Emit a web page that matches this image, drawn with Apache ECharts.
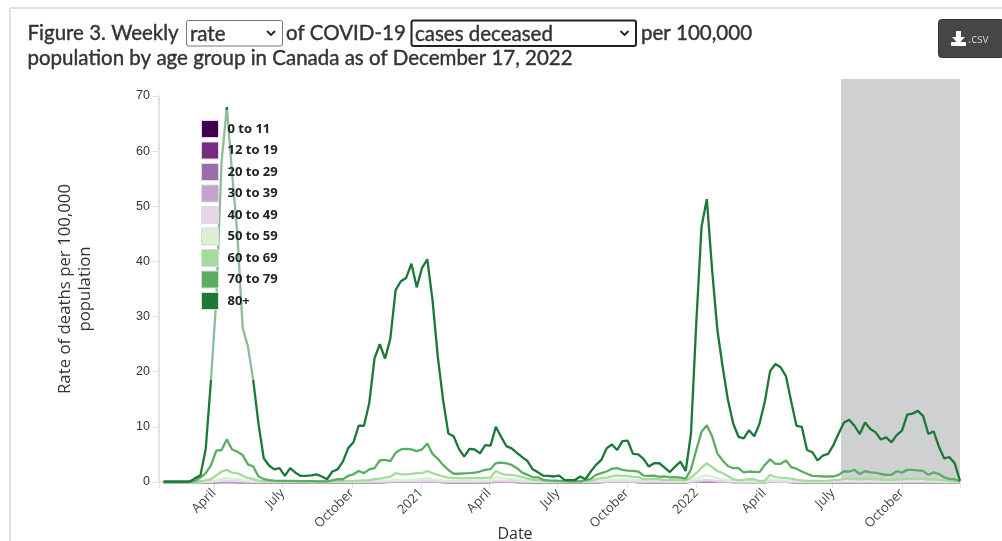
<!DOCTYPE html>
<html><head><meta charset="utf-8">
<style>html,body{margin:0;padding:0;background:#fff}#c{width:1002px;height:541px}</style>
<script src="https://cdn.jsdelivr.net/npm/echarts@6/dist/echarts.min.js"></script>
</head><body><div id="c"></div>
<script>
const weeks = [
'2020-01-25','2020-02-01','2020-02-08','2020-02-15','2020-02-22','2020-02-29','2020-03-07','2020-03-14','2020-03-21','2020-03-28',
'2020-04-04','2020-04-11','2020-04-18','2020-04-25','2020-05-02','2020-05-09','2020-05-16','2020-05-23','2020-05-30','2020-06-06',
'2020-06-13','2020-06-20','2020-06-27','2020-07-04','2020-07-11','2020-07-18','2020-07-25','2020-08-01','2020-08-08','2020-08-15',
'2020-08-22','2020-08-29','2020-09-05','2020-09-12','2020-09-19','2020-09-26','2020-10-03','2020-10-10','2020-10-17','2020-10-24',
'2020-10-31','2020-11-07','2020-11-14','2020-11-21','2020-11-28','2020-12-05','2020-12-12','2020-12-19','2020-12-26','2021-01-02',
'2021-01-09','2021-01-16','2021-01-23','2021-01-30','2021-02-06','2021-02-13','2021-02-20','2021-02-27','2021-03-06','2021-03-13',
'2021-03-20','2021-03-27','2021-04-03','2021-04-10','2021-04-17','2021-04-24','2021-05-01','2021-05-08','2021-05-15','2021-05-22',
'2021-05-29','2021-06-05','2021-06-12','2021-06-19','2021-06-26','2021-07-03','2021-07-10','2021-07-17','2021-07-24','2021-07-31',
'2021-08-07','2021-08-14','2021-08-21','2021-08-28','2021-09-04','2021-09-11','2021-09-18','2021-09-25','2021-10-02','2021-10-09',
'2021-10-16','2021-10-23','2021-10-30','2021-11-06','2021-11-13','2021-11-20','2021-11-27','2021-12-04','2021-12-11','2021-12-18',
'2021-12-25','2022-01-01','2022-01-08','2022-01-15','2022-01-22','2022-01-29','2022-02-05','2022-02-12','2022-02-19','2022-02-26',
'2022-03-05','2022-03-12','2022-03-19','2022-03-26','2022-04-02','2022-04-09','2022-04-16','2022-04-23','2022-04-30','2022-05-07',
'2022-05-14','2022-05-21','2022-05-28','2022-06-04','2022-06-11','2022-06-18','2022-06-25','2022-07-02','2022-07-09','2022-07-16',
'2022-07-23','2022-07-30','2022-08-06','2022-08-13','2022-08-20','2022-08-27','2022-09-03','2022-09-10','2022-09-17','2022-09-24',
'2022-10-01','2022-10-08','2022-10-15','2022-10-22','2022-10-29','2022-11-05','2022-11-12','2022-11-19','2022-11-26','2022-12-03',
'2022-12-10','2022-12-17'];

const age0to11 = [
0,0,0,0,0,0,0,0,0,0, 0,0,.01,0,0,0,0,0,0,0, 0,0,0,0,0,0,0,0,0,0,
0,0,0,0,0,0,0,0,0,0, 0,0,0,.01,.01,.01,.01,.01,.01,.01, .01,.01,.01,0,0,0,0,0,0,0,
0,0,0,.01,.01,.01,.01,0,0,0, 0,0,0,0,0,0,0,0,0,0, 0,0,0,0,.01,.01,.01,.01,.01,.01,
0,0,0,0,0,0,0,0,0,0, .01,.01,.02,.02,.02,.01,.01,.01,0,0, 0,0,0,0,0,.01,.01,.01,.01,0,
0,0,0,0,0,0,0,0,0,0, 0,0,0,0,0,0,0,0,0,0, 0,0,0,0,0,0,0,0,0,0, 0,0];
const age12to19 = [
0,0,0,0,0,0,0,0,0,0, 0,.01,.01,.01,0,0,0,0,0,0, 0,0,0,0,0,0,0,0,0,0,
0,0,0,0,0,0,0,0,0,0, 0,0,.01,.01,.01,.01,.01,.01,.01,.01, .02,.01,.01,.01,0,0,0,0,0,0,
0,0,.01,.01,.01,.01,.01,.01,0,0, 0,0,0,0,0,0,0,0,0,0, 0,0,0,.01,.01,.01,.01,.01,.01,.01,
.01,0,0,0,0,0,0,0,0,0, .01,.01,.02,.02,.02,.02,.01,.01,.01,.01, .01,.01,.01,.01,.01,.01,.01,.01,.01,.01,
0,0,0,0,0,0,0,0,0,0, 0,0,0,0,0,0,0,0,0,0, 0,0,0,0,0,0,0,0,0,0, 0,0];
const age20to29 = [
0,0,0,0,0,0,0,0,0,.01, .02,.03,.03,.03,.02,.02,.01,.01,0,0, 0,0,0,0,0,0,0,0,0,0,
0,0,0,0,0,0,0,0,.01,.01, .01,.01,.02,.02,.02,.02,.03,.03,.03,.03, .04,.03,.02,.02,.01,.01,.01,.01,.01,.01,
.01,.01,.02,.03,.03,.03,.02,.02,.01,.01, 0,0,0,0,0,0,0,0,0,0, 0,.01,.01,.01,.02,.02,.02,.02,.02,.02,
.02,.01,.01,.01,.01,.01,.01,.01,.01,.01, .02,.03,.05,.06,.05,.04,.03,.02,.02,.01, .01,.01,.01,.01,.02,.02,.02,.02,.02,.01,
.01,.01,.01,.01,.01,.01,.01,.01,.01,.01, .01,.01,.01,.01,.01,.01,.01,.01,.01,.01, .01,.01,.01,.01,.01,.01,.01,.01,.01,.01, .01,0];
const age30to39 = [
0,0,0,0,0,0,0,0,.01,.02, .05,.08,.09,.08,.07,.05,.03,.02,.01,.01, 0,0,0,0,0,0,0,0,0,0,
0,0,0,0,0,0,.01,.01,.02,.02, .03,.03,.04,.05,.06,.06,.06,.07,.07,.08, .09,.07,.05,.04,.03,.03,.03,.03,.03,.03,
.03,.04,.05,.08,.08,.07,.06,.05,.03,.02, .01,.01,.01,0,0,0,0,0,0,0, .01,.01,.02,.03,.04,.05,.05,.05,.05,.04,
.04,.03,.03,.02,.02,.02,.02,.02,.02,.02, .04,.08,.12,.14,.12,.09,.06,.05,.04,.03, .03,.03,.03,.03,.04,.05,.04,.04,.04,.03,
.02,.02,.02,.01,.01,.01,.02,.02,.02,.03, .03,.03,.02,.03,.03,.02,.02,.02,.02,.02, .02,.03,.03,.03,.03,.02,.02,.02,.01,.01, .01,0];
const age40to49 = [
0,0,0,0,0,0,0,0,.02,.05, .12,.2,.25,.2,.18,.13,.08,.05,.03,.02, .01,.01,.01,.01,.01,.01,.01,.01,0,0,
0,0,.01,.01,.01,.02,.03,.04,.05,.06, .08,.09,.1,.12,.15,.15,.15,.16,.17,.18, .22,.17,.13,.1,.08,.07,.07,.07,.07,.08,
.08,.09,.1,.22,.2,.17,.15,.12,.08,.06, .04,.03,.02,.02,.01,.01,.01,.01,.01,.01, .02,.03,.06,.08,.1,.13,.14,.13,.12,.11,
.1,.06,.06,.06,.05,.05,.04,.04,.04,.04, .1,.2,.3,.38,.3,.22,.16,.12,.08,.06, .06,.07,.07,.05,.06,.12,.1,.09,.08,.07,
.05,.04,.03,.03,.03,.03,.04,.04,.05,.06, .06,.06,.05,.06,.06,.05,.05,.05,.04,.05, .05,.06,.06,.06,.06,.05,.05,.04,.03,.03, .02,0];
const age50to59 = [
0,0,0,0,0,0,0,0,.05,.1, .3,.5,.7,.55,.5,.35,.2,.15,.08,.05, .03,.03,.03,.03,.03,.03,.03,.02,.02,.02,
.02,.02,.03,.03,.04,.06,.07,.1,.12,.15, .2,.2,.25,.3,.45,.4,.4,.4,.5,.5, .7,.5,.4,.3,.25,.2,.2,.2,.2,.25,
.25,.3,.3,.9,.7,.6,.55,.45,.3,.2, .15,.12,.08,.05,.05,.04,.03,.03,.02,.02, .05,.1,.2,.25,.3,.4,.45,.45,.45,.4,
.35,.2,.2,.2,.2,.15,.15,.15,.15,.12, .3,.6,1,1.2,1,.7,.5,.35,.2,.15, .15,.2,.2,.1,.15,.5,.35,.3,.25,.2,
.15,.1,.1,.08,.08,.08,.1,.12,.15,.2, .2,.2,.15,.2,.2,.18,.15,.15,.12,.18, .15,.2,.2,.2,.2,.15,.15,.12,.1,.08, .05,.02];
const age60to69 = [
0,0,0,0,0,0,0,.05,.3,.5, 1.2,1.9,2.2,1.7,1.6,1.15,.7,.55,.25,.15, .1,.1,.1,.1,.1,.08,.08,.08,.05,.05,
.05,.05,.1,.1,.1,.2,.2,.25,.3,.35, .5,.6,.8,.95,1.6,1.4,1.4,1.45,1.6,1.6, 2,1.6,1.3,1,.8,.7,.7,.65,.7,.7,
.7,.75,.8,2,1.5,1.3,1.3,1.1,.9,.6, .4,.4,.2,.15,.12,.1,.08,.08,.05,.05, .1,.2,.5,.7,.8,1,1.2,1.1,1.1,.9,
.9,.5,.5,.55,.5,.35,.35,.4,.4,.3, .8,1.6,2.6,3.4,2.7,2,1.6,1.1,.5,.3, .4,.5,.5,.15,.25,1.3,.9,.8,.75,.6,
.4,.3,.2,.2,.2,.2,.25,.35,.4,.55, .55,.55,.45,.55,.55,.5,.45,.4,.35,.5, .45,.55,.55,.55,.55,.45,.5,.4,.3,.2, .15,.05];
const age70to79 = [
0,0,0,0,0,0,.2,.8,1.6,3, 5.7,5.8,7.7,5.9,5.5,4.9,3.2,2.8,1,.55, .35,.25,.2,.2,.2,.2,.15,.15,.15,.1,
.1,.1,.3,.5,.5,1.1,1.4,2,1.6,2.3, 2.5,3.9,4,3.8,5.3,5.9,6,5.9,5.6,5.9, 7,5.1,4.2,3.1,2.2,1.5,1.5,1.55,1.6,1.7,
1.9,2.2,2.35,3.4,3.5,3.4,3.1,2.5,1.7,1.3, .85,.85,.4,.3,.25,.2,.15,.1,.1,.1, .35,.55,1.3,1.6,1.9,2.4,2.5,2.2,2.05,2,
1.9,1.15,1.1,1.15,.95,1,.85,.9,.8,.6, 2.3,5.8,9.1,10.3,8.3,5.2,3.9,2.9,2.5,2.5, 1.75,1.9,1.85,1.8,3.1,4.1,3.3,3.3,3.9,2.7,
2.4,1.9,1.5,1.1,1.05,1,1,1,1.3,1.95, 1.9,2.2,1.45,1.95,1.75,1.7,1.45,1.3,1.3,1.95, 1.7,2.2,2.2,2.1,2,1.3,1.75,1.45,.85,.55, .5,.1];
const age80plus = [
.05,.05,.05,.05,.05,.1,.7,1.2,6,18.5, 33,58,68,56,45,28,24.6,18.5,10.6,4.3, 3,2.3,2.5,1.1,2.5,1.7,1.1,1.1,1.2,1.4,
1,.5,1.9,2.3,3.7,6.1,7.2,10.2,10.2,14.3, 22.4,25,22.4,26,34.8,36.4,37,39.6,35.3,38.8, 40.4,33,22.7,14.9,8.8,8.3,6,4.6,6,5.9,
5.2,6.7,6.6,10,8.2,6.5,6.1,5.3,4.5,3.8, 2.3,1.75,1.15,1.1,1,1.15,.4,.35,.35,1, .5,1.9,3.1,4,6.1,6.8,5.8,7.4,7.5,5.1,
5,4.2,2.8,3.4,3.4,2.6,1.8,2.8,3.7,2, 8.8,28.8,46.3,51.3,38.5,27.6,20.9,14.9,10.6,8.2, 7.9,9.4,8.3,10.6,14.6,20.1,21.4,20.8,19.2,14.6,
10.2,10,5.8,5.4,3.9,4.8,5.1,6.7,8.8,10.8, 11.3,10.2,8.7,10.8,9.6,9,7.7,8.1,7.2,8.5, 9.3,12.2,12.4,12.9,12,8.7,9.2,6.4,4.3,4.5, 3.4,.2];

const ageGroups = ['0 to 11','12 to 19','20 to 29','30 to 39','40 to 49','50 to 59','60 to 69','70 to 79','80+'];
const ageColors = ['#40004b','#762a83','#9970ab','#c2a5cf','#e7d4e8','#d9f0d3','#a6dba0','#5aae61','#1b7837'];
const ageValues = [age0to11,age12to19,age20to29,age30to39,age40to49,age50to59,age60to69,age70to79,age80plus];

const tickDates = ['2020-04-01','2020-07-01','2020-10-01','2021-01-01','2021-04-01','2021-07-01','2021-10-01','2022-01-01','2022-04-01','2022-07-01','2022-10-01'];
const tickLabels = ['April','July','October','2021','April','July','October','2022','April','July','October'];
const axisStart = '2020-01-19', axisEnd = '2022-12-17';
const incompleteFrom = '2022-07-12';

const ts = s => new Date(s + 'T00:00:00').getTime();
const labelByTime = {};
tickDates.forEach((d,i)=>{labelByTime[ts(d)] = tickLabels[i];});
const axisGrey = '#e3e3e3', textDark = '#333';
const font = '"Open Sans"';

const series = [{
  type:'line', xAxisIndex:1, yAxisIndex:1, data:[], silent:true, z:1,
  markArea:{silent:true, itemStyle:{color:'#cfd0d2'}, data:[[{xAxis:ts(incompleteFrom),yAxis:0},{xAxis:ts(axisEnd),yAxis:1}]]}
}];
ageGroups.forEach((name,k)=>{
  series.push({
    name, type:'line', showSymbol:false, symbol:'none', clip:false, z:3+k,
    lineStyle:{color:ageColors[k],width:2.3}, itemStyle:{color:ageColors[k]},
    data:ageValues[k].map((v,i)=>[ts(weeks[i]),v])
  });
});

const t = (text,x,y,size,extra) => ({type:'text',silent:true,x,y,z:50,style:Object.assign({text,font:size+'px Lato',fill:'#333',stroke:'#333',lineWidth:0.4,verticalAlign:'middle'},extra||{})});
const box = (x,y,w,h,stroke,lw) => ({type:'rect',silent:true,z:49,shape:{x,y,width:w,height:h,r:2},style:{fill:'#fff',stroke,lineWidth:lw}});
const chev = (x,y) => ({type:'polyline',silent:true,z:50,shape:{points:[[x-4,y-2],[x,y+2],[x+4,y-2]]},style:{fill:null,stroke:'#222',lineWidth:1.8}});

const graphic = [
  {type:'line',silent:true,shape:{x1:10,y1:8,x2:1002,y2:8},style:{stroke:'#e2e2e2',lineWidth:2}},
  {type:'line',silent:true,shape:{x1:10,y1:8,x2:10,y2:541},style:{stroke:'#e2e2e2',lineWidth:2}},
  t('Figure 3. Weekly',27.5,33,20.5),
  box(186.5,20.5,96,25.5,'#767676',1),
  t('rate',190,34,20.5),
  chev(271,33),
  t('of COVID-19',286,33,20.5),
  box(411.5,20.5,224.5,25.5,'#222',2),
  t('cases deceased',415,34,20.5),
  chev(624.5,33),
  t('per 100,000',641,33,20.5),
  t('population by age group in Canada as of December 17, 2022',27.5,58,20.5),
  {type:'rect',silent:true,z:49,shape:{x:938.5,y:19.5,width:66,height:38,r:3},style:{fill:'#464646',stroke:'#333',lineWidth:1}},
  {type:'polygon',silent:true,z:50,shape:{points:[[956,31],[961,31],[961,37],[965,37],[958.5,44],[952,37],[956,37]]},style:{fill:'#fff'}},
  {type:'rect',silent:true,z:50,shape:{x:951,y:42,width:15,height:4,r:1},style:{fill:'#fff'}},
  t('.csv',968,40,12,{font:'12px "Open Sans"',fill:'#ccc',stroke:null,lineWidth:0})
];

const option = {
  animation:false,
  backgroundColor:'#fff',
  grid:[
    {left:159,right:42,top:96,height:386,outerBoundsMode:'none'},
    {left:159,right:42,top:79,height:403,outerBoundsMode:'none'}
  ],
  xAxis:[{
    type:'value',gridIndex:0,min:ts(axisStart),max:ts(axisEnd),scale:true,
    name:'Date',nameLocation:'middle',nameGap:44,nameMoveOverlap:false,
    nameTextStyle:{fontFamily:font,fontSize:16,color:textDark,padding:[0,89,0,0]},
    axisLine:{show:true,lineStyle:{color:axisGrey,width:2}},
    axisTick:{show:true,length:6,lineStyle:{color:axisGrey,width:1},customValues:[ts(axisStart)].concat(tickDates.map(ts),[ts(axisEnd)])},
    axisLabel:{show:true,rotate:45,margin:9,fontFamily:font,fontSize:13,color:'#444',hideOverlap:false,showMinLabel:true,showMaxLabel:true,customValues:tickDates.map(ts),formatter:v=>labelByTime[v]||''},
    splitLine:{show:false}
  },{
    type:'value',gridIndex:1,min:ts(axisStart),max:ts(axisEnd),scale:true,show:false
  }],
  yAxis:[{
    type:'value',gridIndex:0,min:0,max:70,interval:10,
    name:'Rate of deaths per 100,000\npopulation',nameLocation:'middle',nameGap:64,nameRotate:90,
    nameTextStyle:{fontFamily:font,fontSize:16.8,color:textDark,lineHeight:20},
    axisLine:{show:true,lineStyle:{color:axisGrey,width:2}},
    axisTick:{show:true,length:7,lineStyle:{color:axisGrey,width:1}},
    axisLabel:{fontFamily:'"Liberation Sans"',fontSize:12.5,color:textDark,margin:9},
    splitLine:{show:false}
  },{
    type:'value',gridIndex:1,min:0,max:1,show:false
  }],
  legend:{
    data:ageGroups,orient:'vertical',left:191,top:110,
    padding:[10,10,70,10],
    backgroundColor:'rgba(255,255,255,0.5)',
    icon:'rect',itemWidth:17,itemHeight:17,itemGap:3.5,
    itemStyle:{borderColor:'#dcdcdc',borderWidth:1},
    textStyle:{fontFamily:font,fontSize:13,lineHeight:10,fontWeight:'bold',color:'#222',padding:[5,0,0,4]},
    selectedMode:false,z:20
  },
  tooltip:{show:false},
  series,
  graphic
};
echarts.init(document.getElementById('c')).setOption(option);
</script></body></html>
